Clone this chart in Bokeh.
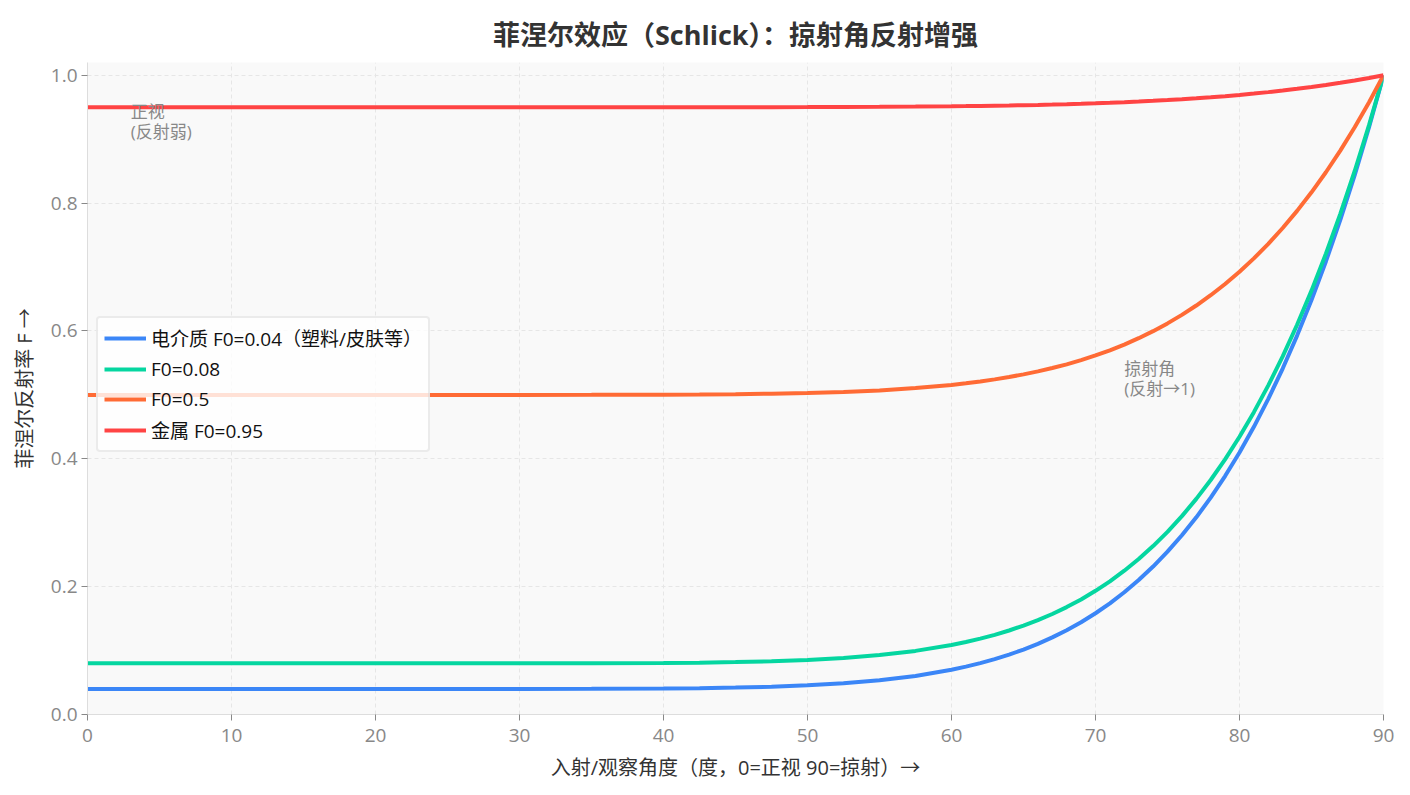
from bokeh.plotting import figure
from bokeh.models import Range1d, Legend, LegendItem, Label, FixedTicker
from bokeh.embed import file_html
from bokeh.resources import INLINE

# incidence angle (degrees)
angles = [0, 5, 10, 15, 20, 25, 30, 35, 40, 42.5, 45, 47.5, 50, 52.5, 55, 57.5, 60,
          61, 62, 63, 64, 65, 66, 67, 68, 69, 70, 71, 72, 73, 74, 75, 76, 77, 78, 79,
          80, 81, 82, 83, 84, 85, 86, 87, 88, 89, 90]

f_dielectric = [0.04, 0.04, 0.04, 0.04, 0.04, 0.04, 0.04004, 0.04019, 0.04067, 0.04120,
                0.04207, 0.04345, 0.04558, 0.04880, 0.05354, 0.06036, 0.07000,
                0.07484, 0.08035, 0.08659, 0.09364, 0.10160, 0.11055, 0.12060, 0.13184,
                0.14440, 0.15840, 0.17396, 0.19122, 0.21033, 0.23144, 0.25473, 0.28036,
                0.30848, 0.33933, 0.37306, 0.40990, 0.45008, 0.49380, 0.54126, 0.59275,
                0.64848, 0.70873, 0.77373, 0.84377, 0.91911, 1.0]
f_008 = [0.08, 0.08, 0.08, 0.08, 0.08, 0.08, 0.08004, 0.08018, 0.08064, 0.08115,
         0.08198, 0.08331, 0.08535, 0.08843, 0.09297, 0.09951, 0.10875,
         0.11339, 0.11867, 0.12465, 0.13141, 0.13904, 0.14761, 0.15724, 0.16801,
         0.18005, 0.19346, 0.20838, 0.22492, 0.24324, 0.26347, 0.28579, 0.31034,
         0.33730, 0.36686, 0.39918, 0.43449, 0.47300, 0.51489, 0.56038, 0.60972,
         0.66312, 0.72086, 0.78316, 0.85028, 0.92248, 1.0]
f_05 = [0.5, 0.5, 0.5, 0.5, 0.5, 0.5, 0.50002, 0.50010, 0.50035, 0.50063,
        0.50108, 0.50180, 0.50291, 0.50458, 0.50705, 0.51060, 0.51563,
        0.51815, 0.52101, 0.52427, 0.52794, 0.53209, 0.53675, 0.54198, 0.54783,
        0.55438, 0.56167, 0.56977, 0.57876, 0.58872, 0.59971, 0.61184, 0.62519,
        0.63984, 0.65590, 0.67347, 0.69266, 0.71359, 0.73636, 0.76108, 0.78789,
        0.81692, 0.84830, 0.88215, 0.91863, 0.95787, 1.0]
f_metal = [0.95, 0.95, 0.95, 0.95, 0.95, 0.95, 0.95, 0.95001, 0.95004, 0.95006,
           0.95011, 0.95018, 0.95029, 0.95046, 0.95070, 0.95106, 0.95156,
           0.95181, 0.95210, 0.95243, 0.95279, 0.95321, 0.95367, 0.95420, 0.95478,
           0.95544, 0.95617, 0.95698, 0.95788, 0.95887, 0.95997, 0.96118, 0.96252,
           0.96398, 0.96559, 0.96735, 0.96927, 0.97136, 0.97364, 0.97611, 0.97879,
           0.98169, 0.98483, 0.98822, 0.99186, 0.99579, 1.0]

series_labels = ["电介质 F0=0.04（塑料/皮肤等）", "F0=0.08", "F0=0.5", "金属 F0=0.95"]
series_colors = ["#3b86f7", "#05d6a0", "#ff6b35", "#ff4444"]
x_ticks = [0, 10, 20, 30, 40, 50, 60, 70, 80, 90]
y_ticks = [0.0, 0.2, 0.4, 0.6, 0.8, 1.0]

FONT = "Open Sans, Noto Sans CJK SC"

p = figure(width=1410, height=795, output_backend="svg", toolbar_location=None,
           x_range=Range1d(0, 90), y_range=Range1d(0, 1.02),
           min_border_left=87, min_border_right=27, min_border_top=62, min_border_bottom=81)
p.background_fill_color = "#f9f9f9"
p.border_fill_color = "white"
p.outline_line_color = None

p.title.text = "菲涅尔效应（Schlick）：掠射角反射增强"
p.title.align = "center"
p.title.text_font = FONT
p.title.text_font_size = "27px"
p.title.text_font_style = "bold"
p.title.text_color = "#333333"
p.title.standoff = 20

for ax in (p.xaxis[0], p.yaxis[0]):
    ax.axis_line_color = "#dddddd"
    ax.major_tick_line_color = "#888888"
    ax.major_tick_in = 0
    ax.major_tick_out = 6
    ax.minor_tick_line_color = None
    ax.major_label_text_color = "#888888"
    ax.major_label_text_font = FONT
    ax.major_label_text_font_size = "19px"
    ax.axis_label_text_font = FONT
    ax.axis_label_text_font_size = "20px"
    ax.axis_label_text_font_style = "normal"
    ax.axis_label_text_color = "#333333"

p.xaxis.ticker = FixedTicker(ticks=x_ticks)
p.yaxis.ticker = FixedTicker(ticks=y_ticks)
p.yaxis.major_label_overrides = {t: f"{t:.1f}" for t in y_ticks}
p.xaxis.major_label_standoff = 8
p.yaxis.major_label_standoff = 4
p.xaxis.axis_label_standoff = 9
p.yaxis.axis_label_standoff = 10
p.xaxis.axis_label = "入射/观察角度（度，0=正视 90=掠射）→"
p.yaxis.axis_label = "菲涅尔反射率 F →"

p.grid.grid_line_color = "#e6e6e6"
p.grid.grid_line_dash = "4 3"
p.grid.grid_line_width = 1

items = []
for vals, lab, col in zip([f_dielectric, f_008, f_05, f_metal], series_labels, series_colors):
    r = p.line(angles, vals, line_color=col, line_width=4)
    items.append(LegendItem(label=lab, renderers=[r]))

legend = Legend(items=items, location=(9, 262))
legend.label_text_font = FONT
legend.label_text_font_size = "19px"
legend.label_text_color = "#111111"
legend.glyph_width = 42
legend.glyph_height = 20
legend.label_height = 20
legend.spacing = 4
legend.padding = 6
legend.margin = 0
legend.border_line_color = "#d8d8d8"
legend.border_line_width = 2
legend.border_radius = 4
legend.background_fill_color = "white"
legend.background_fill_alpha = 0.8
p.add_layout(legend, "center")

p.add_layout(Label(x=3, y=0.962, text="正视\n(反射弱)", text_font=FONT, text_font_size="17px",
                   text_color="#888888", text_baseline="top", text_line_height=0.9))
p.add_layout(Label(x=72, y=0.56, text="掠射角\n(反射→1)", text_font=FONT, text_font_size="17px",
                   text_color="#888888", text_baseline="top", text_line_height=0.9))

open("out.html", "w").write(file_html(p, INLINE))
